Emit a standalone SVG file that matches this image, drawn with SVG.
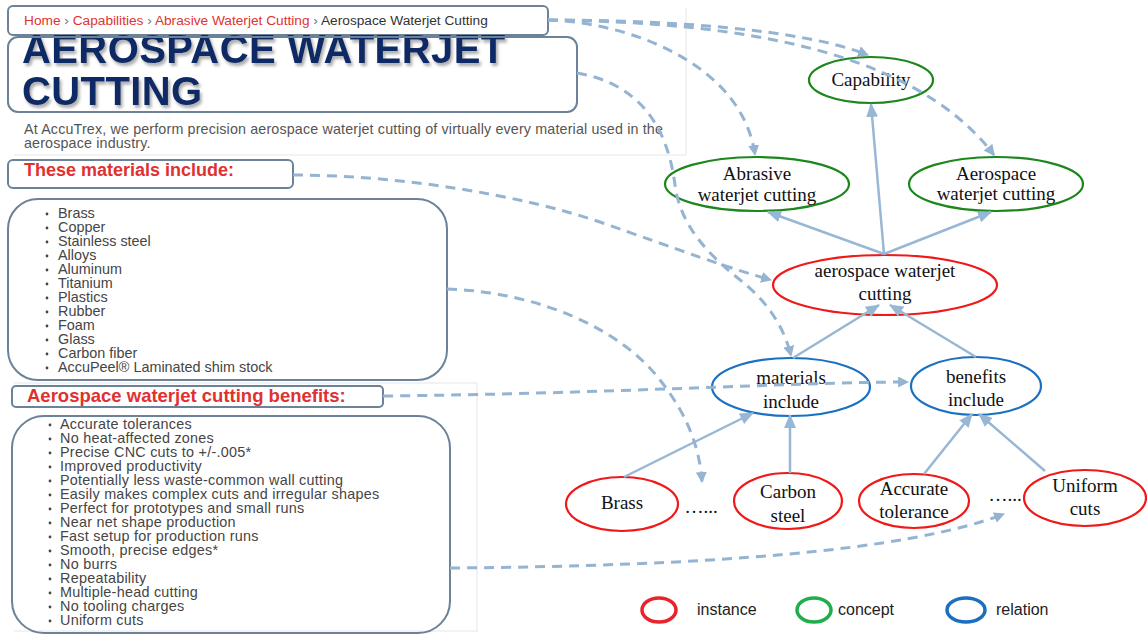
<svg xmlns="http://www.w3.org/2000/svg" width="1147" height="634" viewBox="0 0 1147 634">
  <style>
    .box { fill: none; stroke: #6b8299; stroke-width: 2; }
    .page { fill: none; stroke: #e6e6e6; stroke-width: 1; }
    .crumb { font-family: "Liberation Sans", Arial, sans-serif; font-size: 13.7px; }
    .red { fill: #e0332f; }
    .sep { fill: #777; }
    .cur { fill: #333; }
    .title { font-family: "Liberation Sans", Arial, sans-serif; font-size: 40px; letter-spacing: 0.4px; font-weight: bold; fill: #0b2c66; }
    .para { font-family: "Liberation Sans", Arial, sans-serif; font-size: 14.3px; letter-spacing: 0.15px; fill: #555; }
    .head { font-family: "Liberation Sans", Arial, sans-serif; font-size: 18px; font-weight: bold; fill: #e03131; }
    .head2 { font-size: 18.5px; }
    .list { font-family: "Liberation Sans", Arial, sans-serif; font-size: 14.4px; fill: #454545; }
    .list2 { letter-spacing: 0.25px; }
    .bul { fill: #454545; }
    .node text, .dots { font-family: "Liberation Serif", "Times New Roman", serif; font-size: 19px; fill: #111; text-anchor: middle; }
    .concept { fill: #fff; stroke: #1d861d; stroke-width: 2.2; }
    .instance { fill: #fff; stroke: #f01818; stroke-width: 2.2; }
    .relation { fill: #fff; stroke: #1a70c2; stroke-width: 2.2; }
    .link { fill: none; stroke: #98b7d5; stroke-width: 2.5; marker-end: url(#solidHead); }
    .ref { fill: none; stroke: #94b4d2; stroke-width: 3; stroke-dasharray: 10 7; marker-end: url(#dashHead); }
    .legend text { font-family: "Liberation Sans", Arial, sans-serif; font-size: 16px; fill: #222; }
  </style>
  <defs>
    <marker id="solidHead" viewBox="0 0 14 12" refX="13" refY="6" markerWidth="14" markerHeight="12" markerUnits="userSpaceOnUse" orient="auto">
      <path d="M0,0 L14,6 L0,12 Z" fill="#98b7d5"/>
    </marker>
    <marker id="dashHead" viewBox="0 0 10 10" refX="9" refY="5" markerWidth="11" markerHeight="11" markerUnits="userSpaceOnUse" orient="auto">
      <path d="M0,0 L10,5 L0,10 Z" fill="#94b4d2"/>
    </marker>
    <filter id="shadow" x="-5%" y="-20%" width="110%" height="150%">
      <feDropShadow dx="2" dy="3" stdDeviation="1.5" flood-color="#777" flood-opacity="0.6"/>
    </filter>
  </defs>

  <rect x="0" y="0" width="1147" height="634" fill="#fff"/>

  <!-- faint edges of the captured web page -->
  <g id="page-edges">
    <path class="page" d="M686,8 V155 M14,155 H686"/>
    <path class="page" d="M14,383 H477 V632 M14,631 H477"/>
  </g>

  <!-- web page blocks -->
  <g id="breadcrumb">
    <rect class="box" x="8" y="6" width="540" height="29" rx="5"/>
    <text class="crumb" x="24" y="25"><tspan class="red">Home</tspan><tspan class="sep"> › </tspan><tspan class="red">Capabilities</tspan><tspan class="sep"> › </tspan><tspan class="red">Abrasive Waterjet Cutting</tspan><tspan class="sep"> › </tspan><tspan class="cur">Aerospace Waterjet Cutting</tspan></text>
  </g>

  <g id="page-title">
    <text class="title" x="22" y="63" filter="url(#shadow)">AEROSPACE WATERJET</text>
    <text class="title" x="22" y="105" filter="url(#shadow)">CUTTING</text>
    <rect class="box" x="8" y="37" width="569" height="75" rx="10"/>
  </g>

  <g id="intro">
    <text class="para" x="24" y="134">At AccuTrex, we perform precision aerospace waterjet cutting of virtually every material used in the</text>
    <text class="para" x="24" y="148">aerospace industry.</text>
  </g>

  <g id="materials-heading">
    <rect class="box" x="8" y="160" width="285" height="28" rx="5"/>
    <text class="head" x="24" y="176">These materials include:</text>
  </g>

  <g id="materials-list">
    <rect class="box" x="8" y="199" width="439" height="181" rx="30"/>
    <g class="bul">
      <circle cx="47" cy="214" r="1.4"/><circle cx="47" cy="228" r="1.4"/><circle cx="47" cy="242" r="1.4"/>
      <circle cx="47" cy="256" r="1.4"/><circle cx="47" cy="270" r="1.4"/><circle cx="47" cy="284" r="1.4"/>
      <circle cx="47" cy="298" r="1.4"/><circle cx="47" cy="312" r="1.4"/><circle cx="47" cy="326" r="1.4"/>
      <circle cx="47" cy="340" r="1.4"/><circle cx="47" cy="354" r="1.4"/><circle cx="47" cy="368" r="1.4"/>
    </g>
    <text class="list" x="58" y="218">Brass</text>
    <text class="list" x="58" y="232">Copper</text>
    <text class="list" x="58" y="246">Stainless steel</text>
    <text class="list" x="58" y="260">Alloys</text>
    <text class="list" x="58" y="274">Aluminum</text>
    <text class="list" x="58" y="288">Titanium</text>
    <text class="list" x="58" y="302">Plastics</text>
    <text class="list" x="58" y="316">Rubber</text>
    <text class="list" x="58" y="330">Foam</text>
    <text class="list" x="58" y="344">Glass</text>
    <text class="list" x="58" y="358">Carbon fiber</text>
    <text class="list" x="58" y="372">AccuPeel® Laminated shim stock</text>
  </g>

  <g id="benefits-heading">
    <rect class="box" x="12" y="386" width="371" height="21" rx="4"/>
    <text class="head head2" x="27" y="402">Aerospace waterjet cutting benefits:</text>
  </g>

  <g id="benefits-list">
    <rect class="box" x="12" y="416" width="438" height="217" rx="32"/>
    <g class="bul">
      <circle cx="50" cy="425" r="1.4"/><circle cx="50" cy="439" r="1.4"/><circle cx="50" cy="453" r="1.4"/>
      <circle cx="50" cy="467" r="1.4"/><circle cx="50" cy="481" r="1.4"/><circle cx="50" cy="495" r="1.4"/>
      <circle cx="50" cy="509" r="1.4"/><circle cx="50" cy="523" r="1.4"/><circle cx="50" cy="537" r="1.4"/>
      <circle cx="50" cy="551" r="1.4"/><circle cx="50" cy="565" r="1.4"/><circle cx="50" cy="579" r="1.4"/>
      <circle cx="50" cy="593" r="1.4"/><circle cx="50" cy="607" r="1.4"/><circle cx="50" cy="621" r="1.4"/>
    </g>
    <text class="list list2" x="60" y="429">Accurate tolerances</text>
    <text class="list list2" x="60" y="443">No heat-affected zones</text>
    <text class="list list2" x="60" y="457">Precise CNC cuts to +/-.005*</text>
    <text class="list list2" x="60" y="471">Improved productivity</text>
    <text class="list list2" x="60" y="485">Potentially less waste-common wall cutting</text>
    <text class="list list2" x="60" y="499">Easily makes complex cuts and irregular shapes</text>
    <text class="list list2" x="60" y="513">Perfect for prototypes and small runs</text>
    <text class="list list2" x="60" y="527">Near net shape production</text>
    <text class="list list2" x="60" y="541">Fast setup for production runs</text>
    <text class="list list2" x="60" y="555">Smooth, precise edges*</text>
    <text class="list list2" x="60" y="569">No burrs</text>
    <text class="list list2" x="60" y="583">Repeatability</text>
    <text class="list list2" x="60" y="597">Multiple-head cutting</text>
    <text class="list list2" x="60" y="611">No tooling charges</text>
    <text class="list list2" x="60" y="625">Uniform cuts</text>
  </g>

  <!-- graph nodes -->
  <g id="capability" class="node">
    <ellipse class="concept" cx="871" cy="80" rx="62" ry="23"/>
    <text x="871" y="86">Capability</text>
  </g>
  <g id="abrasive" class="node">
    <ellipse class="concept" cx="757" cy="184" rx="92" ry="27"/>
    <text x="757" y="180">Abrasive</text>
    <text x="757" y="201">waterjet cutting</text>
  </g>
  <g id="aerospace" class="node">
    <ellipse class="concept" cx="996" cy="184" rx="87" ry="27"/>
    <text x="996" y="180">Aerospace</text>
    <text x="996" y="200">waterjet cutting</text>
  </g>
  <g id="aerospace-instance" class="node">
    <ellipse class="instance" cx="885" cy="285" rx="112" ry="30"/>
    <text x="885" y="277">aerospace waterjet</text>
    <text x="885" y="300">cutting</text>
  </g>
  <g id="materials-include" class="node">
    <ellipse class="relation" cx="791" cy="387" rx="79" ry="29"/>
    <text x="791" y="384">materials</text>
    <text x="791" y="408">include</text>
  </g>
  <g id="benefits-include" class="node">
    <ellipse class="relation" cx="976" cy="386" rx="65" ry="29"/>
    <text x="976" y="383">benefits</text>
    <text x="976" y="406">include</text>
  </g>
  <g id="brass" class="node">
    <ellipse class="instance" cx="622" cy="504" rx="56" ry="27"/>
    <text x="622" y="509">Brass</text>
  </g>
  <g id="carbon-steel" class="node">
    <ellipse class="instance" cx="788" cy="501" rx="54" ry="28"/>
    <text x="788" y="498">Carbon</text>
    <text x="788" y="522">steel</text>
  </g>
  <g id="accurate-tolerance" class="node">
    <ellipse class="instance" cx="914" cy="501" rx="55" ry="27"/>
    <text x="914" y="495">Accurate</text>
    <text x="914" y="518">tolerance</text>
  </g>
  <g id="uniform-cuts" class="node">
    <ellipse class="instance" cx="1085" cy="498" rx="61" ry="28"/>
    <text x="1085" y="492">Uniform</text>
    <text x="1085" y="515">cuts</text>
  </g>
  <text class="dots" x="701" y="513">…...</text>
  <text class="dots" x="1005" y="501">…...</text>

  <!-- connectors -->
  <g id="connectors">
    <!-- solid: graph relations -->
    <path class="link" d="M884,254 L871,104"/>
    <path class="link" d="M884,254 L768,212"/>
    <path class="link" d="M884,254 L991,212"/>
    <path class="link" d="M793,358 L879,305"/>
    <path class="link" d="M976,357 L890,305"/>
    <path class="link" d="M624,477 L753,413"/>
    <path class="link" d="M790,473 L790,415"/>
    <path class="link" d="M924,474 L972,414"/>
    <path class="link" d="M1045,471 L979,414"/>
    <!-- dashed: page block to graph node -->
    <path class="ref" d="M548,20 C 660,20 800,28 868,55"/>
    <path class="ref" d="M548,20 C 700,22 905,38 994,155"/>
    <path class="ref" d="M548,20 C 625,22 742,62 755,155"/>
    <path class="ref" d="M577,73 C 642,84 668,130 675,185 C 681,232 718,262 745,284 C 770,305 785,330 791,356"/>
    <path class="ref" d="M293,175 C 400,175 520,195 600,222 C 680,250 728,268 771,280"/>
    <path class="ref" d="M447,289 C 540,292 622,330 660,380 C 690,418 700,452 702,482"/>
    <path class="ref" d="M383,396 C 600,394 800,382 908,382"/>
    <path class="ref" d="M450,568 C 700,566 905,552 1004,514"/>
  </g>

  <!-- legend -->
  <g id="legend" class="legend">
    <ellipse cx="659" cy="610" rx="17" ry="12" fill="none" stroke="#e8232b" stroke-width="3.5"/>
    <text x="697" y="615">instance</text>
    <ellipse cx="814" cy="610" rx="17" ry="12" fill="none" stroke="#1fae4b" stroke-width="3.5"/>
    <text x="838" y="615">concept</text>
    <ellipse cx="966" cy="610" rx="19" ry="12" fill="none" stroke="#1a6fc0" stroke-width="3.5"/>
    <text x="996" y="615">relation</text>
  </g>
</svg>
